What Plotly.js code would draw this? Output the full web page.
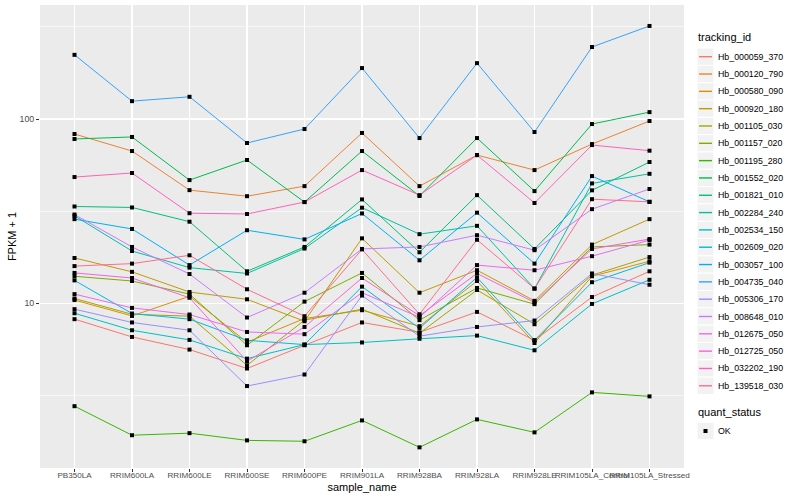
<!DOCTYPE html>
<html>
<head>
<meta charset="utf-8">
<script src="https://cdn.plot.ly/plotly-3.0.1.min.js"></script>
<style>html,body{margin:0;padding:0;background:#fff;}#chart{width:800px;height:500px;}</style>
</head>
<body>
<div id="chart"></div>
<script>
// ---- data (FPKM + 1) ----
const categories = ['PB350LA','RRIM600LA','RRIM600LE','RRIM600SE','RRIM600PE','RRIM901LA','RRIM928BA','RRIM928LA','RRIM928LE','RRIM105LA_Control','RRIM105LA_Stressed'];
const trackingIds = ['Hb_000059_370','Hb_000120_790','Hb_000580_090','Hb_000920_180','Hb_001105_030','Hb_001157_020','Hb_001195_280','Hb_001552_020','Hb_001821_010','Hb_002284_240','Hb_002534_150','Hb_002609_020','Hb_003057_100','Hb_004735_040','Hb_005306_170','Hb_008648_010','Hb_012675_050','Hb_012725_050','Hb_032202_190','Hb_139518_030'];

const Hb_000059_370 = [8.19, 6.56, 5.60, 4.42, 5.91, 7.86, 6.95, 8.97, 6.29, 10.8, 14.9];
const Hb_000120_790 = [82.9, 67.0, 41.1, 38.1, 43.2, 84.0, 43.2, 63.7, 52.8, 73.1, 97.5];
const Hb_000580_090 = [10.4, 8.53, 10.9, 6.14, 8.26, 9.16, 7.50, 13.2, 6.08, 14.0, 16.9];
const Hb_000920_180 = [17.6, 14.8, 11.5, 10.5, 7.98, 22.5, 11.4, 15.1, 10.3, 20.8, 28.6];
const Hb_001105_030 = [10.6, 8.71, 8.50, 4.60, 8.09, 9.28, 6.87, 11.8, 7.69, 14.2, 17.8];
const Hb_001157_020 = [14.0, 13.2, 11.2, 5.91, 10.2, 14.6, 8.09, 12.1, 9.88, 20.2, 20.8];
const Hb_001195_280 = [2.76, 1.92, 1.97, 1.80, 1.78, 2.31, 1.65, 2.34, 1.99, 3.28, 3.12];
const Hb_001552_020 = [77.9, 79.9, 46.6, 59.9, 35.4, 67.0, 38.2, 78.8, 40.6, 93.9, 109];
const Hb_001821_010 = [33.5, 33.1, 27.7, 14.9, 20.2, 36.6, 18.9, 38.6, 19.7, 41.0, 58.4];
const Hb_002284_240 = [29.8, 19.2, 15.6, 14.5, 19.8, 33.0, 23.7, 26.3, 12.0, 44.7, 50.4];
const Hb_002534_150 = [8.82, 7.13, 6.32, 5.00, 5.96, 6.12, 6.41, 6.67, 5.55, 9.91, 13.4];
const Hb_002609_020 = [13.3, 8.79, 8.19, 6.29, 5.96, 12.3, 7.31, 13.8, 6.29, 13.0, 16.6];
const Hb_003057_100 = [28.6, 25.3, 16.1, 24.9, 22.2, 30.7, 17.1, 31.0, 16.4, 49.0, 35.5];
const Hb_004735_040 = [223, 125, 132, 74.1, 88.2, 189, 78.8, 201, 85.0, 246, 320];
const Hb_005306_170 = [9.28, 7.86, 7.13, 3.55, 4.10, 11.0, 6.62, 7.43, 8.05, 14.5, 12.6];
const Hb_008648_010 = [30.3, 20.2, 14.4, 8.36, 11.4, 19.7, 20.2, 23.4, 19.4, 32.4, 41.7];
const Hb_012675_050 = [11.2, 9.43, 8.68, 6.98, 6.79, 11.4, 8.39, 16.1, 15.1, 18.0, 22.0];
const Hb_012725_050 = [14.6, 13.7, 10.7, 4.84, 7.43, 13.7, 8.55, 14.5, 10.1, 19.7, 22.3];
const Hb_032202_190 = [48.4, 50.9, 30.8, 30.5, 35.4, 52.8, 38.6, 63.7, 35.0, 72.2, 67.3];
const Hb_139518_030 = [15.9, 16.4, 18.2, 11.9, 8.50, 19.6, 8.71, 22.1, 12.0, 36.7, 35.5];

const seriesValues = [Hb_000059_370, Hb_000120_790, Hb_000580_090, Hb_000920_180, Hb_001105_030, Hb_001157_020, Hb_001195_280, Hb_001552_020, Hb_001821_010, Hb_002284_240, Hb_002534_150, Hb_002609_020, Hb_003057_100, Hb_004735_040, Hb_005306_170, Hb_008648_010, Hb_012675_050, Hb_012725_050, Hb_032202_190, Hb_139518_030];
const yTickVals = [10, 100];
const yTickText = ['10', '100'];
const statusLabel = 'OK';

// ---- styles ----
const colors = ['#F8766D','#EA8331','#D89000','#C09B00','#A3A500','#7CAE00','#39B600','#00BB4E','#00BF7D','#00C1A3','#00BFC4','#00BAE0','#00B0F6','#35A2FF','#9590FF','#C77CFF','#E76BF3','#FA62DB','#FF62BC','#FF6C91'];
const FONT = 'Liberation Sans, Arial, Helvetica, sans-serif';

const traces = seriesValues.map((vals, i) => ({
  type: 'scatter', mode: 'lines', x: categories, y: vals, name: trackingIds[i],
  line: {color: colors[i], width: 1}, showlegend: false, hoverinfo: 'x+y+name'
}));
// points (quant_status = OK) drawn on top of all lines
const px = [], py = [];
seriesValues.forEach(vals => vals.forEach((v, j) => { px.push(categories[j]); py.push(v); }));
traces.push({type: 'scatter', mode: 'markers', x: px, y: py, name: statusLabel,
  marker: {color: '#000', symbol: 'square', size: 4}, showlegend: false});

// ---- manual ggplot-style legend ----
const L = 40, R = 684, T = 5, B = 468;
const toX = p => (p - L) / (R - L);
const toY = p => (B - p) / (B - T);
const shapes = [], annotations = [];
annotations.push({xref: 'paper', yref: 'paper', x: toX(696), y: toY(37), xanchor: 'left', yanchor: 'middle',
  text: 'tracking_id', showarrow: false, font: {family: FONT, size: 11, color: '#000'}});
const step = 17.32, top0 = 56.7;
trackingIds.forEach((id, i) => {
  const cy = top0 + i * step;
  shapes.push({type: 'rect', xref: 'paper', yref: 'paper', x0: toX(697), x1: toX(714), y0: toY(cy - step / 2), y1: toY(cy + step / 2),
    fillcolor: '#F2F2F2', line: {color: '#FFFFFF', width: 1}});
  shapes.push({type: 'line', xref: 'paper', yref: 'paper', x0: toX(699), x1: toX(712), y0: toY(cy), y1: toY(cy),
    line: {color: colors[i], width: 1.4}});
  annotations.push({xref: 'paper', yref: 'paper', x: toX(716), y: toY(cy), xanchor: 'left', yanchor: 'middle',
    text: id, showarrow: false, font: {family: FONT, size: 8.8, color: '#000'}});
});
annotations.push({xref: 'paper', yref: 'paper', x: toX(696), y: toY(412), xanchor: 'left', yanchor: 'middle',
  text: 'quant_status', showarrow: false, font: {family: FONT, size: 11, color: '#000'}});
const okY = 431;
shapes.push({type: 'rect', xref: 'paper', yref: 'paper', x0: toX(697), x1: toX(714), y0: toY(okY - step / 2), y1: toY(okY + step / 2),
  fillcolor: '#F2F2F2', line: {color: '#FFFFFF', width: 1}});
shapes.push({type: 'rect', xref: 'paper', yref: 'paper', x0: toX(703.5), x1: toX(707.5), y0: toY(okY - 2), y1: toY(okY + 2),
  fillcolor: '#000', line: {width: 0}});
annotations.push({xref: 'paper', yref: 'paper', x: toX(716), y: toY(okY), xanchor: 'left', yanchor: 'middle',
  text: statusLabel, showarrow: false, font: {family: FONT, size: 8.8, color: '#000'}});

const layout = {
  width: 800, height: 500,
  margin: {l: L, r: 800 - R, t: T, b: 500 - B, pad: 0},
  paper_bgcolor: '#FFFFFF', plot_bgcolor: '#EBEBEB',
  font: {family: FONT, color: '#000'},
  showlegend: false,
  xaxis: {
    type: 'category', categoryorder: 'array', categoryarray: categories,
    range: [-0.6, categories.length - 0.4],
    showgrid: true, gridcolor: '#FFFFFF', gridwidth: 1.1, zeroline: false, showline: false,
    ticks: 'outside', ticklen: 3, tickwidth: 1, tickcolor: '#333333', tickangle: 0,
    ticklabelstandoff: -4,
    tickfont: {family: FONT, size: 8.1, color: '#4D4D4D'},
    title: {text: 'sample_name', font: {family: FONT, size: 11, color: '#000'}, standoff: 4},
    fixedrange: true
  },
  yaxis: {
    type: 'log', range: [0.1053, 2.6189],
    tickmode: 'array', tickvals: yTickVals, ticktext: yTickText,
    showgrid: true, gridcolor: '#FFFFFF', gridwidth: 1.1, zeroline: false, showline: false,
    minor: {tickmode: 'array', tickvals: [Math.sqrt(10), Math.sqrt(1000), Math.sqrt(100000)], showgrid: true, gridcolor: '#FFFFFF', gridwidth: 0.55, ticks: ''},
    ticks: 'outside', ticklen: 3, tickwidth: 1, tickcolor: '#333333',
    tickfont: {family: FONT, size: 8.8, color: '#4D4D4D'},
    title: {text: 'FPKM + 1', font: {family: FONT, size: 11, color: '#000'}, standoff: 0},
    fixedrange: true
  },
  shapes: shapes,
  annotations: annotations
};

Plotly.newPlot('chart', traces, layout, {displayModeBar: false, staticPlot: true});
</script>
</body>
</html>
